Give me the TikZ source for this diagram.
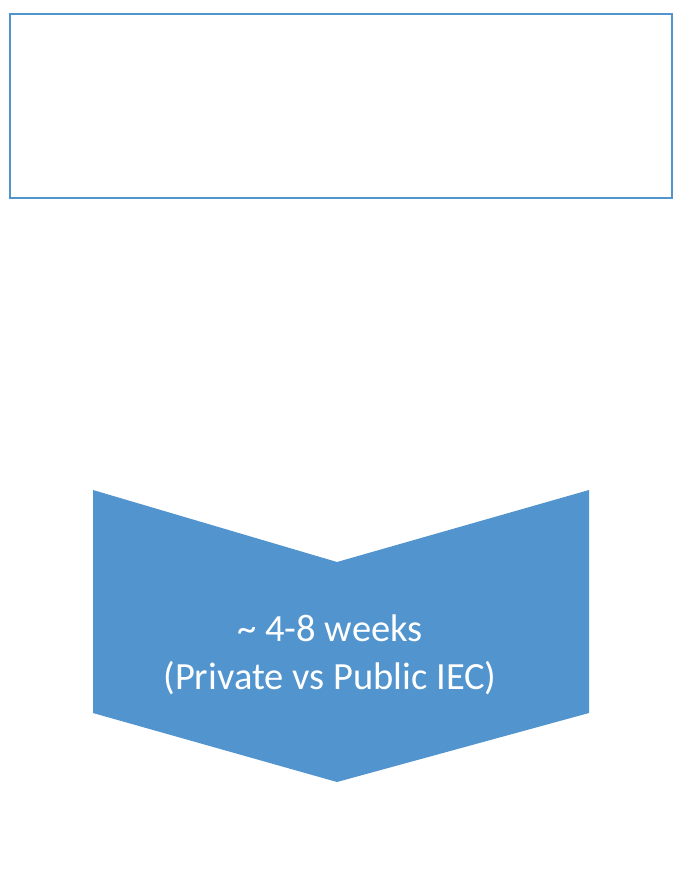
\documentclass[tikz,border=0pt]{standalone}
\usepackage{fontspec}
\setmainfont{Carlito}
\usetikzlibrary{positioning}

\definecolor{officeblue}{HTML}{5294CE}

\begin{document}
\begin{tikzpicture}[
            x = 1pt, y = -1pt, % pixel units, y going down
            semithick % line style
        ]

        \tikzset{
            topbox/.style = {draw = officeblue, line width = 1.5pt, fill = white},
            chevron/.style = {fill = officeblue, draw = none},
            label/.style = {text = white, align = center, font = \fontsize{38.5}{48}\selectfont}
        }

        \useasboundingbox (0,0) rectangle (683,882);

        \draw[topbox] (10,14) rectangle (672,198);

        \fill[chevron] (93,490) -- (337,562) -- (589,490) -- (589,713)
            -- (337,782) -- (93,713) -- cycle;

        \node[label] (time) at (330,655) {\textasciitilde{} 4-8 weeks\\(Private vs Public IEC)};

  \end{tikzpicture}
\end{document}
